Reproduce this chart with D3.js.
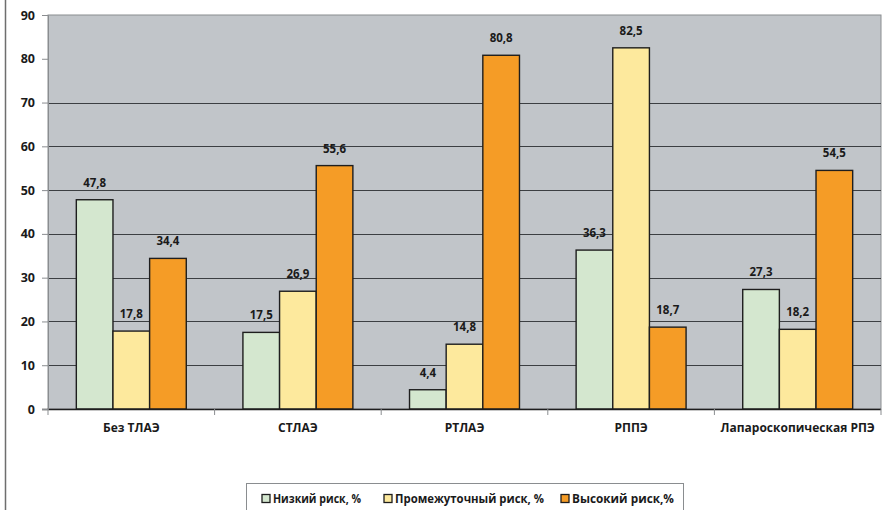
<!DOCTYPE html>
<html><head><meta charset="utf-8">
<script src="https://cdn.jsdelivr.net/npm/d3@7"></script>
<style>body{margin:0;background:#fff}svg{display:block}text{font-family:"Open Sans","Noto Sans",sans-serif;font-weight:700;fill:#1a1a1a}</style>
</head><body><svg id="c" width="893" height="510"></svg>
<script>
const categories = ["Без ТЛАЭ","СТЛАЭ","РТЛАЭ","РППЭ","Лапароскопическая РПЭ"];
const seriesNames = ["Низкий риск, %","Промежуточный риск, %","Высокий риск,%"];
const lowRisk = [47.8, 17.5, 4.4, 36.3, 27.3];
const midRisk = [17.8, 26.9, 14.8, 82.5, 18.2];
const highRisk = [34.4, 55.6, 80.8, 18.7, 54.5];
const yTicks = [0,10,20,30,40,50,60,70,80,90];
const gridTicks = [10,20,30,40,50,60,70];
const colors = ["#d4e7cf","#fde99d","#f59c26"];

const series = [lowRisk, midRisk, highRisk];
const svg = d3.select("#c");
const L = 48, R = 881, T = 15, B = 409;

// outer chart border (left)
svg.append("line").attr("x1",5.5).attr("x2",5.5).attr("y1",0).attr("y2",510).attr("stroke","#6e6e6e").attr("stroke-width",1.5);

const x0 = d3.scaleBand().domain(categories).range([L,R]).paddingInner(0).paddingOuter(0);
const y = d3.scaleLinear().domain([0,90]).range([B,T]);

svg.append("rect").attr("x",L).attr("y",T).attr("width",R-L).attr("height",B-T)
  .attr("fill","#c1c5c9").attr("stroke","#8a8d90").attr("stroke-width",1);

svg.append("g").selectAll("line").data(gridTicks).join("line")
  .attr("x1",L).attr("x2",R).attr("y1",d=>Math.round(y(d))+0.5).attr("y2",d=>Math.round(y(d))+0.5)
  .attr("stroke","#3c3f42").attr("stroke-width",1);

const bw = x0.bandwidth()*0.66/3;
const x1 = d3.scaleBand().domain([0,1,2]).range([0, bw*3]);
const off = (x0.bandwidth()-bw*3)/2;

const g = svg.append("g");
categories.forEach((c,i)=>{
  series.forEach((s,j)=>{
    const v = s[i];
    const xx = x0(c)+off+x1(j);
    g.append("rect").attr("x",xx).attr("y",y(v)).attr("width",bw).attr("height",B-y(v))
      .attr("fill",colors[j]).attr("stroke","#1e1e1e").attr("stroke-width",1.4);
    g.append("text").attr("x",xx+bw/2).attr("y",y(v)-13).attr("text-anchor","middle")
      .attr("font-size",11.5).text(String(v).replace(".",","));
  });
});

// x axis
const xAxis = d3.axisBottom(x0).tickSize(0).tickPadding(14);
const xg = svg.append("g").attr("transform",`translate(0,${B})`).call(xAxis);
xg.select(".domain").attr("stroke","#1e1e1e").attr("stroke-width",1.5).attr("d",`M${L-6},0.5H${R}`);
xg.selectAll("text").attr("font-size",12).attr("font-family","Open Sans, sans-serif").attr("font-weight",700).attr("fill","#1a1a1a");
// category separator ticks
svg.append("g").selectAll("line").data(d3.range(categories.length+1)).join("line")
  .attr("x1",i=>L+i*x0.step()).attr("x2",i=>L+i*x0.step()).attr("y1",B).attr("y2",B+6)
  .attr("stroke","#8a8d90");

// y axis
const yAxis = d3.axisLeft(y).tickValues(yTicks).tickSize(6).tickPadding(7).tickFormat(d3.format("d"));
const yg = svg.append("g").attr("transform",`translate(${L},0)`).call(yAxis);
yg.select(".domain").attr("stroke","#8a8d90");
yg.selectAll(".tick line").attr("stroke","#8a8d90");
yg.selectAll("text").attr("font-size",12.5).attr("font-family","Open Sans, sans-serif").attr("font-weight",700).attr("fill","#1a1a1a");

// legend
const lg = svg.append("g");
lg.append("rect").attr("x",246.5).attr("y",483.5).attr("width",437).attr("height",30).attr("fill","#fff").attr("stroke","#8a8d90");
const lx = [262, 384, 561];
const lw = [88, 149, 102];
seriesNames.forEach((n,j)=>{
  lg.append("rect").attr("x",lx[j]).attr("y",494.5).attr("width",8).attr("height",8).attr("fill",colors[j]).attr("stroke","#1e1e1e").attr("stroke-width",1.3);
  lg.append("text").attr("x",lx[j]+11).attr("y",503).attr("font-size",11.5)
    .attr("textLength",lw[j]).attr("lengthAdjust","spacingAndGlyphs").text(n);
});
</script></body></html>
